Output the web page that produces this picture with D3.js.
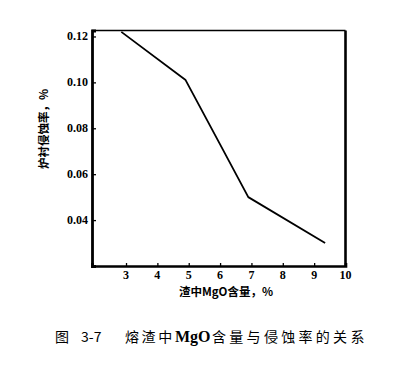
<!DOCTYPE html>
<html><head><meta charset="utf-8">
<script src="https://cdn.jsdelivr.net/npm/d3@7"></script>
<style>body{margin:0;background:#fff}</style>
</head><body>
<svg id="c" width="406" height="384"></svg>
<script>
const mgo = [2.85, 4.9, 6.0, 6.9, 9.35];
const erosion = [0.122, 0.101, 0.073, 0.050, 0.030];
const xTicks = [3, 4, 5, 6, 7, 8, 9, 10];
const yTicks = [0.04, 0.06, 0.08, 0.10, 0.12];
const xTitle = "渣中MgO含量，%";
const yTitle = "炉衬侵蚀率，%";
const capNum = "图";
const capId = "3-7";
const capText = ["熔渣中", "MgO", "含量与侵蚀率的关系"];

const svg = d3.select("#c");
const L = 92, R = 345.5, T = 30.5, B = 266;
const x = d3.scaleLinear().domain([1.915, 10]).range([L, R]);
const y = d3.scaleLinear().domain([0.02, 0.1226]).range([B, T]);
const tickFont = "'Liberation Serif','DejaVu Serif',serif";

// frame
svg.append("line").attr("x1", L).attr("x2", R).attr("y1", T).attr("y2", T).attr("stroke", "#000").attr("stroke-width", 1.6);
svg.append("line").attr("x1", R).attr("x2", R).attr("y1", T).attr("y2", B).attr("stroke", "#000").attr("stroke-width", 2.6);

// axes
const xa = svg.append("g").attr("transform", `translate(0,${B})`)
  .call(d3.axisTop(x).tickValues(xTicks.filter(v => v < 10)).tickSize(3).tickFormat(""));
xa.select(".domain").attr("stroke-width", 2.6);
xa.selectAll(".tick line").attr("stroke-width", 1.3);
svg.append("g").selectAll("text").data(xTicks).join("text")
  .attr("x", d => x(d)).attr("y", B + 13)
  .attr("text-anchor", "middle").attr("font-family", tickFont).attr("font-weight", "bold")
  .attr("font-size", 12).text(d => d);

const ya = svg.append("g").attr("transform", `translate(${L},0)`)
  .call(d3.axisRight(y).tickValues(yTicks).tickSize(4).tickFormat(""));
ya.select(".domain").attr("stroke-width", 2.8);
ya.selectAll(".tick line").attr("stroke-width", 1.3);
svg.append("g").selectAll("text").data(yTicks).join("text")
  .attr("x", L - 4).attr("y", d => y(d) + 4)
  .attr("text-anchor", "end").attr("font-family", tickFont).attr("font-weight", "bold")
  .attr("font-size", 12).text(d => d.toFixed(2));

// line
svg.append("path").datum(mgo.map((m, i) => [m, erosion[i]]))
  .attr("d", d3.line().x(d => x(d[0])).y(d => y(d[1])))
  .attr("fill", "none").attr("stroke", "#000").attr("stroke-width", 1.8).attr("stroke-linejoin", "round");

// titles
const cjk = "'Noto Sans CJK SC','Noto Sans',sans-serif";
svg.append("text").attr("transform", "translate(48,129) rotate(-90)")
  .attr("text-anchor", "middle").attr("font-family", cjk).attr("font-weight", "bold")
  .attr("font-size", 11.5).text(yTitle);
svg.append("text").attr("x", 226).attr("y", 296)
  .attr("text-anchor", "middle").attr("font-family", cjk).attr("font-weight", "bold")
  .attr("font-size", 11.5).text(xTitle);

// caption
svg.append("text").attr("x", 55).attr("y", 342).attr("font-family", cjk).attr("font-size", 14).text(capNum);
svg.append("text").attr("x", 81).attr("y", 342).attr("font-family", cjk).attr("font-size", 14).text(capId);
svg.append("text").attr("x", 125).attr("y", 342).attr("font-family", cjk).attr("font-size", 14)
  .attr("letter-spacing", 2.6).text(capText[0]);
svg.append("text").attr("x", 175).attr("y", 342).attr("font-family", tickFont).attr("font-weight", "bold")
  .attr("font-size", 16).text(capText[1]);
svg.append("text").attr("x", 212).attr("y", 342).attr("font-family", cjk).attr("font-size", 14)
  .attr("letter-spacing", 3.3).text(capText[2]);
</script>
</body></html>
